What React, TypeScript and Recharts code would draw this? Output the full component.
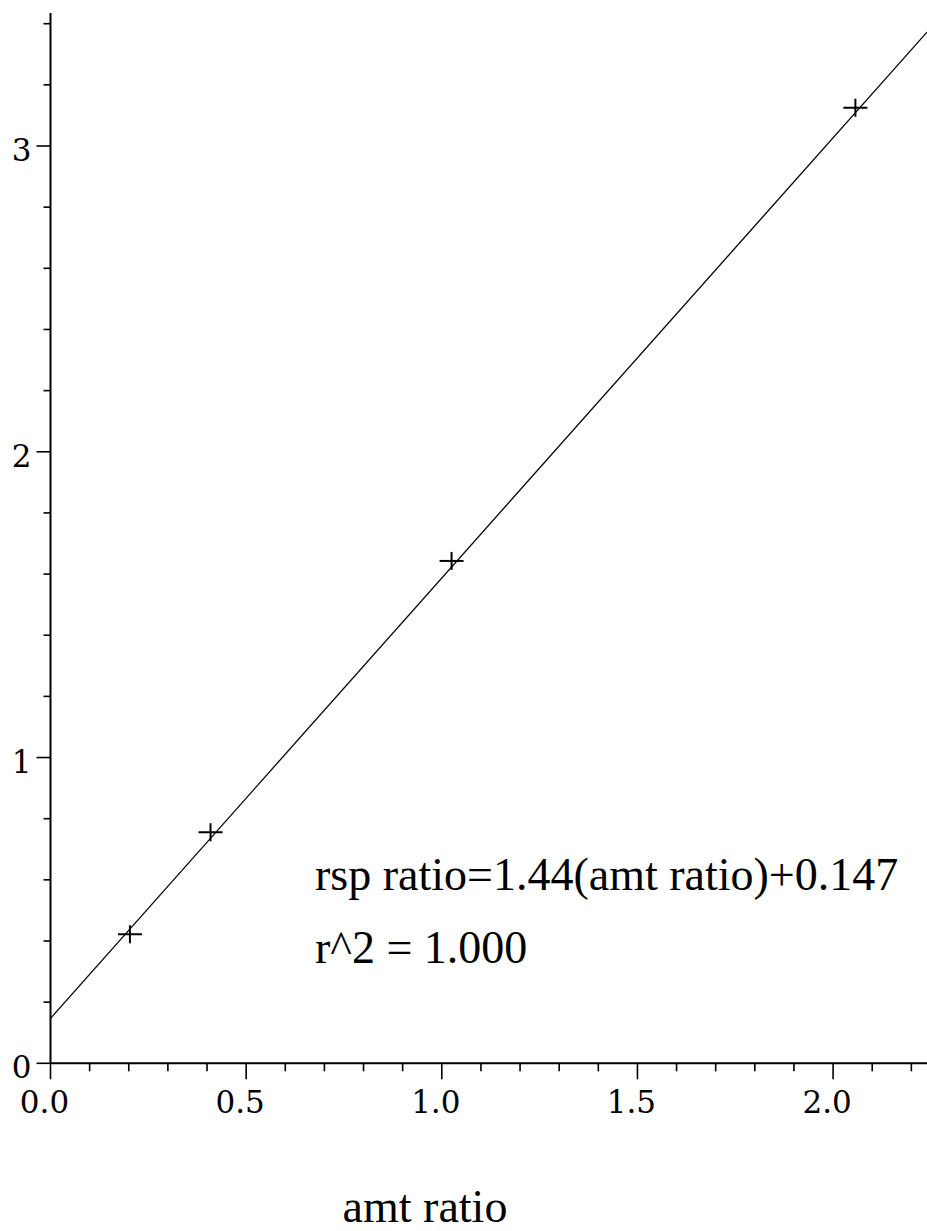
import { ScatterChart, Scatter, XAxis, YAxis, ReferenceLine, Customized } from 'recharts'

// measured points (amt ratio vs rsp ratio)
const amtRatio = [0.203, 0.409, 1.025, 2.057]
const rspRatio = [0.422, 0.756, 1.643, 3.125]

// fit reported on the plot
const slope = 1.44
const intercept = 0.147
const fitText = 'rsp ratio=1.44(amt ratio)+0.147'
const r2Text = 'r^2 = 1.000'
const xTitle = 'amt ratio'

const xDomain = [0, 2.24]
const yDomain = [0, 3.435]

const xTicks = [0, 0.1, 0.2, 0.3, 0.4, 0.5, 0.6, 0.7, 0.8, 0.9, 1, 1.1, 1.2, 1.3, 1.4, 1.5, 1.6, 1.7, 1.8, 1.9, 2, 2.1, 2.2]
const xMajor = [0, 0.5, 1, 1.5, 2]
const xMajorLabels = ['0.0', '0.5', '1.0', '1.5', '2.0']

const yTicks = [0, 0.2, 0.4, 0.6, 0.8, 1, 1.2, 1.4, 1.6, 1.8, 2, 2.2, 2.4, 2.6, 2.8, 3, 3.2, 3.4]
const yMajor = [0, 1, 2, 3]
const yMajorLabels = ['0', '1', '2', '3']

const points = amtRatio.map((x, i) => ({ x, y: rspRatio[i] }))

const tickStyle = { fontFamily: "'DejaVu Serif', serif", fontSize: 31 }
const textStyle = { fontFamily: "'Liberation Serif', 'Times New Roman', serif", fontSize: 46 }

function majorIndex(list: number[], v: number) {
  return list.findIndex((m) => Math.abs(m - v) < 1e-6)
}

function XTick({ x, y, payload }: any) {
  const i = majorIndex(xMajor, payload.value)
  return (
    <g>
      <line x1={x} x2={x} y1={y} y2={y + (i >= 0 ? 16 : 8)} stroke="#000" strokeWidth={1.6} />
      {i >= 0 && (
        <text x={x - 6} y={y + 50} textAnchor="middle" style={tickStyle} fill="#000">
          {xMajorLabels[i]}
        </text>
      )}
    </g>
  )
}

function YTick({ x, y, payload }: any) {
  const i = majorIndex(yMajor, payload.value)
  return (
    <g>
      <line x1={x} x2={x - (i >= 0 ? 14 : 7)} y1={y} y2={y} stroke="#000" strokeWidth={1.6} />
      {i >= 0 && (
        <text x={x - 19} y={y + 15} textAnchor="end" style={tickStyle} fill="#000">
          {yMajorLabels[i]}
        </text>
      )}
    </g>
  )
}

function Cross({ cx, cy }: any) {
  return (
    <g stroke="#000" strokeWidth={2}>
      <line x1={cx - 12} x2={cx + 12} y1={cy} y2={cy} />
      <line x1={cx} x2={cx} y1={cy - 9} y2={cy + 9} />
    </g>
  )
}

function Notes() {
  return (
    <g fill="#000">
      <text x={315} y={890} style={textStyle}>{fitText}</text>
      <text x={315} y={963} style={textStyle}>{r2Text}</text>
      <text x={425} y={1222} textAnchor="middle" style={textStyle}>{xTitle}</text>
    </g>
  )
}

export default function App() {
  const x1 = xDomain[1]
  return (
    <div style={{ position: 'absolute', left: 0, top: 0, background: '#fff' }}>
      <ScatterChart width={927} height={1231} margin={{ top: 13, right: 0, bottom: 0, left: 0 }}>
        <XAxis
          type="number"
          dataKey="x"
          domain={xDomain}
          ticks={xTicks}
          interval={0}
          allowDataOverflow
          height={167.7}
          tickSize={0}
          tickMargin={0}
          tickLine={false}
          tick={<XTick />}
          axisLine={{ stroke: '#000', strokeWidth: 2 }}
        />
        <YAxis
          type="number"
          dataKey="y"
          domain={yDomain}
          ticks={yTicks}
          interval={0}
          allowDataOverflow
          width={50.5}
          tickSize={0}
          tickMargin={0}
          tickLine={false}
          tick={<YTick />}
          axisLine={{ stroke: '#000', strokeWidth: 2 }}
        />
        <ReferenceLine
          segment={[
            { x: 0, y: intercept },
            { x: x1, y: slope * x1 + intercept },
          ]}
          stroke="#000"
          strokeWidth={1.3}
          ifOverflow="visible"
        />
        <Scatter data={points} shape={<Cross />} isAnimationActive={false} />
        <Customized component={Notes} />
      </ScatterChart>
    </div>
  )
}
